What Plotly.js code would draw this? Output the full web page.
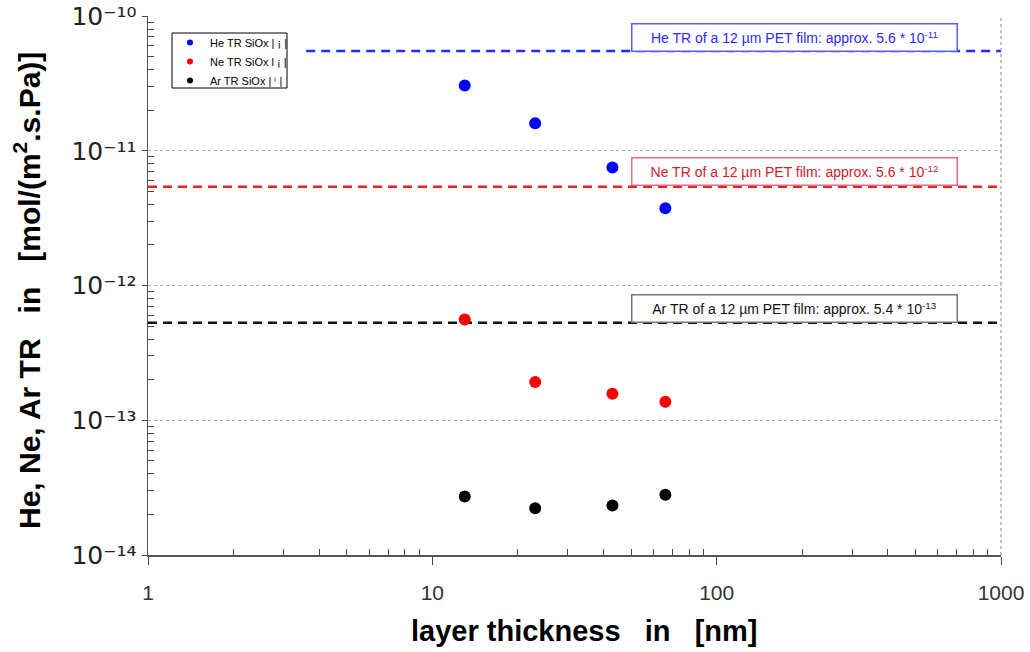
<!DOCTYPE html>
<html>
<head>
<meta charset="utf-8">
<script src="https://cdn.plot.ly/plotly-3.0.1.min.js"></script>
<style>html,body{margin:0;padding:0;background:#fff;}#chart{width:1030px;height:652px;}</style>
</head>
<body>
<div id="chart"></div>
<script>
// Layer thickness (nm)
var thickness = [13, 23, 43, 66];
// Transmission rates, mol/(m2.s.Pa)
var heTR = [3.05e-11, 1.6e-11, 7.5e-12, 3.75e-12];
var neTR = [5.6e-13, 1.92e-13, 1.57e-13, 1.37e-13];
var arTR = [2.72e-14, 2.22e-14, 2.33e-14, 2.8e-14];
// PET film reference levels
var petX = [1, 1000];
var hePetX = [3.6, 1000];
var hePet = 5.5e-11;
var nePet = 5.4e-12;
var arPet = 5.3e-13;
var legendNames = ['He TR SiOx | \u00a1 |', 'Ne TR SiOx l \u00a1 |', 'Ar TR SiOx | \u2071 |'];
var annTexts = [
  'He TR of a 12 \u00b5m PET film: approx. 5.6 * 10<sup>-11</sup>',
  'Ne TR of a 12 \u00b5m PET film: approx. 5.6 * 10<sup>-12</sup>',
  'Ar TR of a 12 \u00b5m PET film: approx. 5.4 * 10<sup>-13</sup>'
];
var xTitle = 'layer thickness\u00a0\u00a0\u00a0in\u00a0\u00a0\u00a0[nm]';
var yTitle = 'He, Ne, Ar TR\u00a0\u00a0\u00a0in\u00a0\u00a0\u00a0[mol/(m<sup>2</sup>.s.Pa)]';
var yTickVals = [1e-14, 1e-13, 1e-12, 1e-11, 1e-10];
var yTickText = ['10\u207b\u00b9\u2074', '10\u207b\u00b9\u00b3', '10\u207b\u00b9\u00b2', '10\u207b\u00b9\u00b9', '10\u207b\u00b9\u2070'];
var xTickVals = [1, 10, 100, 1000];
var xTickText = ['1', '10', '100', '1000'];
var minorDigits = [2, 3, 4, 5, 6, 7, 8, 9];

// minor tick positions (axis decoration only)
var xMinor = [], yMinor = [];
[1, 10, 100].forEach(function (d) { minorDigits.forEach(function (m) { xMinor.push(m * d); }); });
[1e-14, 1e-13, 1e-12, 1e-11].forEach(function (d) { minorDigits.forEach(function (m) { yMinor.push(m * d); }); });

var dashStyle = '9px,6px';
var colors = ['#0000ff', '#ff0000', '#000000'];
var traces = [
  {x: hePetX, y: [hePet, hePet], mode: 'lines', line: {color: '#1f2cff', width: 2.5, dash: dashStyle}, showlegend: false, hoverinfo: 'skip'},
  {x: petX, y: [nePet, nePet], mode: 'lines', line: {color: '#ff1a1a', width: 2.5, dash: dashStyle}, showlegend: false, hoverinfo: 'skip'},
  {x: petX, y: [arPet, arPet], mode: 'lines', line: {color: '#111111', width: 2.5, dash: dashStyle}, showlegend: false, hoverinfo: 'skip'},
  {x: thickness, y: heTR, mode: 'markers', showlegend: false, marker: {color: colors[0], size: 12}},
  {x: thickness, y: neTR, mode: 'markers', showlegend: false, marker: {color: colors[1], size: 12}},
  {x: thickness, y: arTR, mode: 'markers', showlegend: false, marker: {color: colors[2], size: 12}},
  // legend entries (small symbols as in the reference legend)
  {x: [null], y: [null], mode: 'markers', name: legendNames[0], marker: {color: colors[0], size: 6}},
  {x: [null], y: [null], mode: 'markers', name: legendNames[1], marker: {color: colors[1], size: 6}},
  {x: [null], y: [null], mode: 'markers', name: legendNames[2], marker: {color: colors[2], size: 6}}
];

var PL = 148, PR = 1001, PT = 16, PB = 555;
function px(x) { return (x - PL) / (PR - PL); }
function py(y) { return (PB - y) / (PB - PT); }

var layout = {
  width: 1030, height: 652,
  margin: {l: PL, r: 1030 - PR, t: PT, b: 652 - PB},
  paper_bgcolor: '#ffffff', plot_bgcolor: '#ffffff',
  font: {family: 'Liberation Sans, Arial, sans-serif', color: '#000'},
  showlegend: true,
  legend: {
    x: px(170), y: py(28), xanchor: 'left', yanchor: 'top',
    bgcolor: 'rgba(0,0,0,0)', borderwidth: 0,
    font: {size: 11, family: 'Liberation Sans, Arial, sans-serif'},
    tracegroupgap: 0, itemwidth: 30
  },
  xaxis: {
    type: 'log', range: [-0.0000001, 3.0000001],
    tickvals: xTickVals, ticktext: xTickText,
    ticks: 'outside', ticklen: 8, tickcolor: '#444', tickwidth: 1,
    ticklabelstandoff: 10, ticklabeloverflow: 'allow',
    minor: {tickvals: xMinor, ticks: 'inside', ticklen: 6, tickcolor: '#444', tickwidth: 1, showgrid: false},
    showline: true, linecolor: '#555', linewidth: 1.5,
    showgrid: false, zeroline: false,
    tickfont: {size: 21, family: 'Liberation Sans, Arial, sans-serif', color: '#333'}
  },
  yaxis: {
    type: 'log', range: [-14.0000001, -9.9999999],
    tickvals: yTickVals, ticktext: yTickText,
    ticks: 'outside', ticklen: 5, tickcolor: '#444', tickwidth: 1,
    ticklabeloverflow: 'allow',
    minor: {tickvals: yMinor, ticks: 'inside', ticklen: 6, tickcolor: '#444', tickwidth: 1, showgrid: false},
    showline: true, linecolor: '#555', linewidth: 1.5,
    showgrid: true, gridcolor: '#aaaaaa', griddash: 'dot', gridwidth: 1,
    zeroline: false,
    tickfont: {size: 25, family: 'DejaVu Sans, sans-serif', color: '#222'}
  },
  shapes: [
    {type: 'line', xref: 'paper', yref: 'paper', x0: 1, x1: 1, y0: 0, y1: 1, line: {color: '#aaaaaa', width: 1.5, dash: 'dot'}},
    {type: 'rect', xref: 'paper', yref: 'paper', x0: px(172), x1: px(287), y0: py(88), y1: py(33), line: {color: '#000000', width: 1}, fillcolor: 'rgba(0,0,0,0)', layer: 'above'}
  ],
  annotations: [
    {xref: 'paper', yref: 'paper', x: px(794.5), y: py(37.5), xanchor: 'center', yanchor: 'middle', text: annTexts[0], showarrow: false, font: {size: 14, color: '#2a2aff'}, bordercolor: '#5a5aff', borderwidth: 1.5, borderpad: 3, bgcolor: '#fff', width: 318, height: 20},
    {xref: 'paper', yref: 'paper', x: px(794.5), y: py(171), xanchor: 'center', yanchor: 'middle', text: annTexts[1], showarrow: false, font: {size: 14, color: '#d02030'}, bordercolor: '#e07080', borderwidth: 1.5, borderpad: 3, bgcolor: '#fff', width: 318, height: 20},
    {xref: 'paper', yref: 'paper', x: px(794.5), y: py(308), xanchor: 'center', yanchor: 'middle', text: annTexts[2], showarrow: false, font: {size: 14, color: '#111'}, bordercolor: '#777', borderwidth: 1.5, borderpad: 3, bgcolor: '#fff', width: 318, height: 20},
    // axis titles
    {xref: 'paper', yref: 'paper', x: px(584), y: py(631), xanchor: 'center', yanchor: 'middle', text: xTitle, showarrow: false, font: {size: 29, weight: 'bold', color: '#000'}},
    {xref: 'paper', yref: 'paper', x: px(27), y: py(291), xanchor: 'center', yanchor: 'middle', textangle: -90, text: yTitle, showarrow: false, font: {size: 30, weight: 'bold', color: '#000'}}
  ]
};

Plotly.newPlot('chart', traces, layout, {displayModeBar: false, staticPlot: true});
</script>
</body>
</html>
